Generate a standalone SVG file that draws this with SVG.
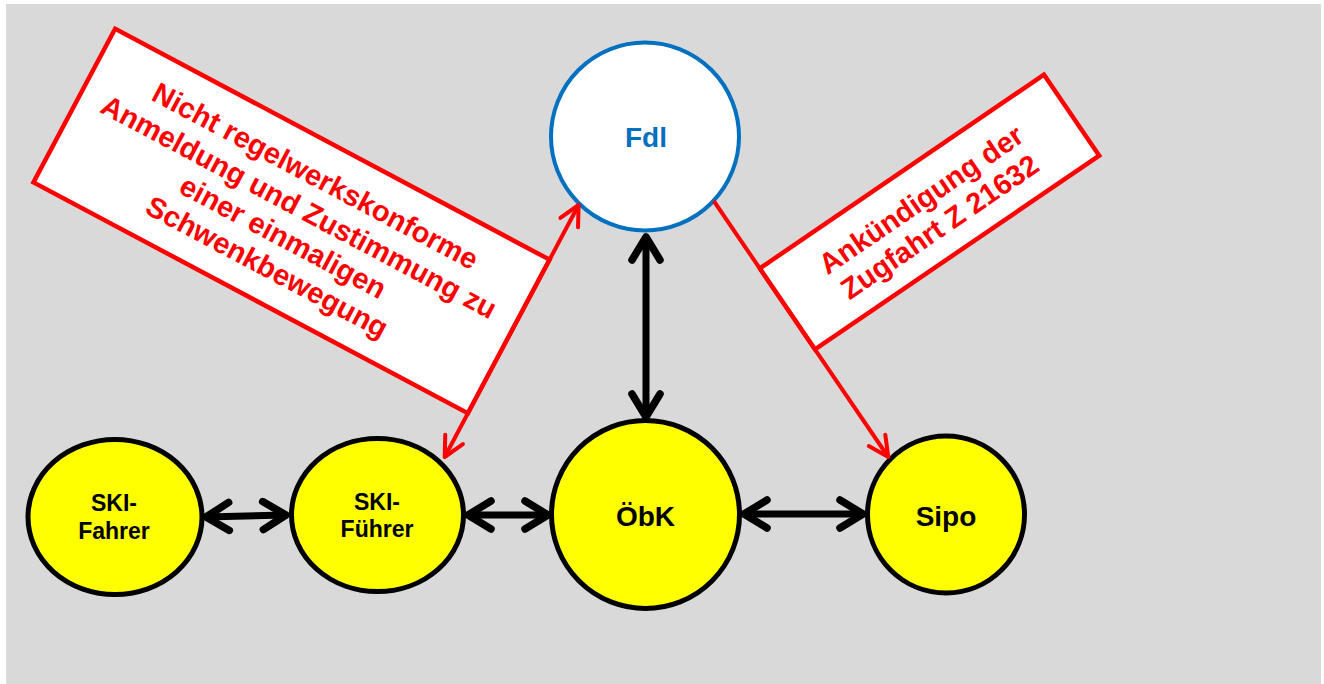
<svg xmlns="http://www.w3.org/2000/svg" width="1324" height="684" viewBox="0 0 1324 684">
<style>
.bg{fill:#D9D9D9}
.yel{fill:#FFFF00;stroke:#000;stroke-width:5}
.fdl{fill:#FFF;stroke:#0070C0;stroke-width:4}
.lbl{fill:#FFF;stroke:#FF0000;stroke-width:4.5}
.t{font-family:"Liberation Sans",Arial,sans-serif;font-weight:bold;text-anchor:middle}
.tb{fill:#000}
.tr{fill:#FF0000;font-size:29px}
.blk{stroke:#000;stroke-width:7;fill:none}
.red{stroke:#FF0000;stroke-width:4;fill:none}
</style>
<defs>
<marker id="ab" markerUnits="userSpaceOnUse" orient="auto-start-reverse" refX="0" refY="0" markerWidth="40" markerHeight="40" overflow="visible">
<path d="M-23,-14 L0,0 L-23,14" fill="none" stroke="#000" stroke-width="7.5" stroke-linecap="round" stroke-linejoin="round"/>
</marker>
<marker id="ar" markerUnits="userSpaceOnUse" orient="auto-start-reverse" refX="0" refY="0" markerWidth="40" markerHeight="40" overflow="visible">
<path d="M-20,-10 L0,0 L-20,10" fill="none" stroke="#FF0000" stroke-width="4" stroke-linecap="round" stroke-linejoin="round"/>
</marker>
</defs>
<rect class="bg" x="6" y="4" width="1315" height="680"/>

<g id="label-left">
<g transform="translate(291.5,221) rotate(28)">
<rect class="lbl" x="-246" y="-87" width="492" height="174"/>
<text class="t tr" x="0" y="-41">Nicht regelwerkskonforme</text>
<text class="t tr" x="0" y="-6">Anmeldung und Zustimmung zu</text>
<text class="t tr" x="0" y="28">einer einmaligen</text>
<text class="t tr" x="0" y="62">Schwenkbewegung</text>
</g>
</g>
<g id="label-right">
<g transform="translate(929.5,212) rotate(-34.3)">
<rect class="lbl" x="-172" y="-49" width="344" height="98"/>
<text class="t tr" x="0" y="-5">Ankündigung der</text>
<text class="t tr" x="0" y="28">Zugfahrt Z 21632</text>
</g>
</g>

<g id="node-fdl">
<circle class="fdl" cx="645" cy="136.5" r="94"/>
<text class="t" x="646" y="147" font-size="28" fill="#0070C0">Fdl</text>
</g>
<g id="node-skifahrer">
<ellipse class="yel" cx="115" cy="517" rx="87" ry="77.5"/>
<text class="t tb" x="114" y="511" font-size="23">SKI-</text>
<text class="t tb" x="114" y="539" font-size="23">Fahrer</text>
</g>
<g id="node-skifuehrer">
<ellipse class="yel" cx="377.5" cy="515" rx="86" ry="76.5"/>
<text class="t tb" x="377" y="510" font-size="23">SKI-</text>
<text class="t tb" x="377" y="537" font-size="23">Führer</text>
</g>
<g id="node-oebk">
<circle class="yel" cx="645.5" cy="514.5" r="94"/>
<text class="t tb" x="645.5" y="526" font-size="28">ÖbK</text>
</g>
<g id="node-sipo">
<circle class="yel" cx="946" cy="514.5" r="78.5"/>
<text class="t tb" x="946" y="526" font-size="28">Sipo</text>
</g>

<g id="connectors">
<line class="blk" x1="646" y1="237" x2="646" y2="417" marker-start="url(#ab)" marker-end="url(#ab)"/>
<line class="blk" x1="206" y1="517" x2="286" y2="515" marker-start="url(#ab)" marker-end="url(#ab)"/>
<line class="blk" x1="468" y1="515" x2="548" y2="515" marker-start="url(#ab)" marker-end="url(#ab)"/>
<line class="blk" x1="744" y1="514" x2="863" y2="514" marker-start="url(#ab)" marker-end="url(#ab)"/>
<line class="red" x1="444.7" y1="457" x2="578.6" y2="205" marker-start="url(#ar)" marker-end="url(#ar)"/>
<line class="red" x1="713.8" y1="201" x2="888.3" y2="457" marker-end="url(#ar)"/>
</g>
</svg>
